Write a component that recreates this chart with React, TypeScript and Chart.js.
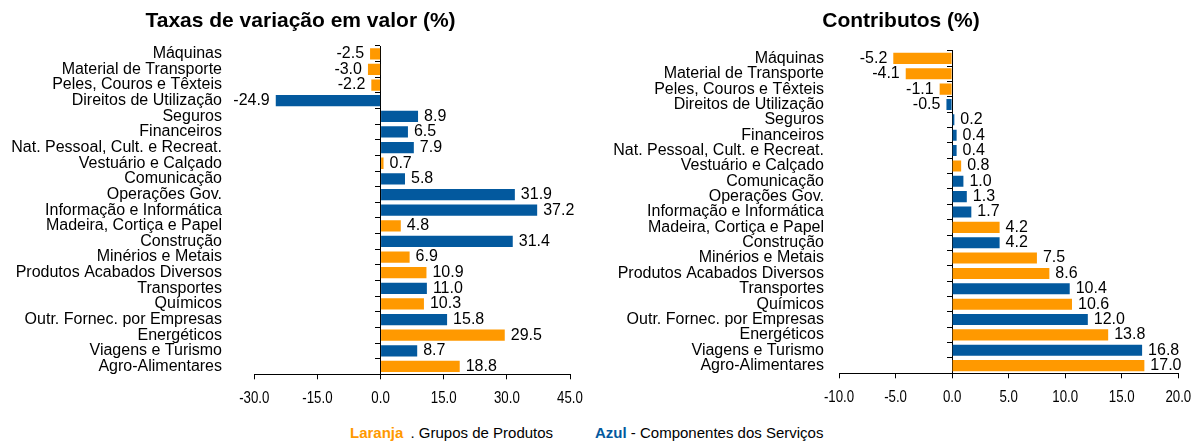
import React, { useEffect, useRef } from "react";
import { Chart, registerables } from "chart.js";

Chart.register(...registerables);

const CATEGORIES = [
  "Máquinas",
  "Material de Transporte",
  "Peles, Couros e Têxteis",
  "Direitos de Utilização",
  "Seguros",
  "Financeiros",
  "Nat. Pessoal, Cult. e Recreat.",
  "Vestuário e Calçado",
  "Comunicação",
  "Operações Gov.",
  "Informação e Informática",
  "Madeira, Cortiça e Papel",
  "Construção",
  "Minérios e Metais",
  "Produtos Acabados Diversos",
  "Transportes",
  "Químicos",
  "Outr. Fornec. por Empresas",
  "Energéticos",
  "Viagens e Turismo",
  "Agro-Alimentares",
];

// P = Grupos de Produtos (laranja), S = Componentes dos Serviços (azul)
const GROUPS = ["P", "P", "P", "S", "S", "S", "S", "P", "S", "S", "S", "P", "S", "P", "P", "S", "P", "S", "P", "S", "P"];

const VARIATION = [-2.5, -3.0, -2.2, -24.9, 8.9, 6.5, 7.9, 0.7, 5.8, 31.9, 37.2, 4.8, 31.4, 6.9, 10.9, 11.0, 10.3, 15.8, 29.5, 8.7, 18.8];
const CONTRIB = [-5.2, -4.1, -1.1, -0.5, 0.2, 0.4, 0.4, 0.8, 1.0, 1.3, 1.7, 4.2, 4.2, 7.5, 8.6, 10.4, 10.6, 12.0, 13.8, 16.8, 17.0];

const LEFT_TICKS = [-30, -15, 0, 15, 30, 45];
const RIGHT_TICKS = [-10, -5, 0, 5, 10, 15, 20];

const TITLE_LEFT = "Taxas de variação em valor (%)";
const TITLE_RIGHT = "Contributos (%)";

const ORANGE = "#FF9900";
const BLUE = "#03599E";
const FONT = "'Liberation Sans', Arial, Helvetica, sans-serif";

// value labels next to each bar
const valueLabels = {
  id: "valueLabels",
  afterDatasetsDraw(chart: any) {
    const ctx = chart.ctx;
    const meta = chart.getDatasetMeta(0);
    const data = chart.data.datasets[0].data as number[];
    ctx.save();
    ctx.font = `16px ${FONT}`;
    ctx.fillStyle = "#000";
    ctx.textBaseline = "middle";
    meta.data.forEach((bar: any, i: number) => {
      const v = data[i];
      const { x, y } = bar.getProps(["x", "y"], true);
      if (v >= 0) {
        ctx.textAlign = "left";
        ctx.fillText(v.toFixed(1), x + 6, y);
      } else {
        ctx.textAlign = "right";
        ctx.fillText(v.toFixed(1), x - 6, y);
      }
    });
    ctx.restore();
  },
};

// condensed x tick labels, placed from the x scale's own ticks
const condensedTicks = {
  id: "condensedTicks",
  afterDraw(chart: any) {
    const sc = chart.scales.x;
    const ctx = chart.ctx;
    ctx.save();
    ctx.font = `17px ${FONT}`;
    ctx.fillStyle = "#000";
    ctx.textAlign = "center";
    ctx.textBaseline = "middle";
    const y = sc.top + 23.7;
    sc.ticks.forEach((t: any) => {
      const x = sc.getPixelForValue(t.value);
      ctx.save();
      ctx.translate(x, y);
      ctx.scale(0.78, 1);
      ctx.fillText(Number(t.value).toFixed(1), 0, 0);
      ctx.restore();
    });
    ctx.restore();
  },
};

// keep long category labels from being clipped at the scale's left edge
const unclipLabels = {
  id: "unclipLabels",
  afterLayout(chart: any) {
    const y = chart.scales.y;
    if (y) y.left = 0;
  },
};

interface Spec {
  title: string;
  values: number[];
  ticks: number[];
  height: number;
  padLeft: number;
  padRight: number;
  yWidth: number;
  labelPad: number;
  titleBottom: number;
  areaBottom: number;
}

function makeConfig(s: Spec): any {
  const step = s.ticks[1] - s.ticks[0];
  return {
    type: "bar",
    data: {
      labels: CATEGORIES,
      datasets: [
        {
          data: s.values,
          backgroundColor: GROUPS.map((g) => (g === "P" ? ORANGE : BLUE)),
          borderWidth: 0,
          categoryPercentage: 0.8,
          barPercentage: 0.9,
        },
      ],
    },
    options: {
      indexAxis: "y",
      responsive: false,
      animation: false,
      layout: { padding: { left: s.padLeft, right: s.padRight, top: 0, bottom: 0 } },
      plugins: {
        legend: { display: false },
        tooltip: { enabled: false },
        title: {
          display: true,
          text: s.title,
          color: "#000",
          font: { family: FONT, size: 21, weight: "bold", lineHeight: 1.2 },
          padding: { top: 8.2, bottom: s.titleBottom },
        },
      },
      scales: {
        x: {
          type: "linear",
          min: s.ticks[0],
          max: s.ticks[s.ticks.length - 1],
          ticks: {
            stepSize: step,
            display: false,
          },
          grid: {
            display: true,
            drawOnChartArea: false,
            drawTicks: true,
            tickLength: 5,
            color: "#000",
          },
          border: { display: true, color: "#000", width: 1 },
          afterFit: (scale: any) => {
            scale.height = s.height - s.areaBottom;
          },
        },
        y: {
          type: "category",
          position: "left",
          grid: { display: false, drawTicks: false },
          border: { display: false },
          ticks: {
            color: "#000",
            padding: s.labelPad,
            autoSkip: false,
            font: { family: FONT, size: 16 },
          },
          afterFit: (scale: any) => {
            scale.width = s.yWidth;
          },
        },
        y2: {
          type: "category",
          axis: "y",
          labels: CATEGORIES,
          position: { x: 0 },
          offset: true,
          ticks: { display: false },
          grid: {
            display: true,
            offset: true,
            drawOnChartArea: false,
            drawTicks: true,
            tickLength: 5,
            color: "#000",
          },
          border: { display: true, color: "#000", width: 1 },
        },
      },
    },
    plugins: [unclipLabels, valueLabels, condensedTicks],
  };
}

function BarChart(props: { spec: Spec; left: number; width: number }) {
  const ref = useRef<HTMLCanvasElement | null>(null);
  useEffect(() => {
    if (!ref.current) return;
    const chart = new Chart(ref.current, makeConfig(props.spec));
    return () => chart.destroy();
  }, []);
  return (
    <canvas
      ref={ref}
      width={props.width}
      height={props.spec.height}
      style={{
        position: "absolute",
        left: props.left,
        top: 0,
        width: props.width,
        height: props.spec.height,
        display: "block",
      }}
    />
  );
}

const LEFT_SPEC: Spec = {
  title: TITLE_LEFT,
  values: VARIATION,
  ticks: LEFT_TICKS,
  height: 420,
  padLeft: 31,
  padRight: 30,
  yWidth: 223.3,
  labelPad: 32.3,
  titleBottom: 12.6,
  areaBottom: 374.3,
};

const RIGHT_SPEC: Spec = {
  title: TITLE_RIGHT,
  values: CONTRIB,
  ticks: RIGHT_TICKS,
  height: 420,
  padLeft: 23.7,
  padRight: 33.7,
  yWidth: 215.3,
  labelPad: 15,
  titleBottom: 17.3,
  areaBottom: 373.3,
};

export default function App() {
  return (
    <div
      style={{
        position: "absolute",
        left: 0,
        top: 0,
        width: 1199,
        height: 443,
        overflow: "hidden",
        background: "#fff",
        fontFamily: FONT,
      }}
    >
      <BarChart spec={LEFT_SPEC} left={0} width={600} />
      <BarChart spec={RIGHT_SPEC} left={600} width={612} />
      <div
        style={{
          position: "absolute",
          left: 350,
          top: 424,
          fontSize: 15,
          lineHeight: "18px",
          whiteSpace: "nowrap",
          color: "#000",
        }}
      >
        <span style={{ color: ORANGE, fontWeight: "bold" }}>Laranja</span>
        <span style={{ marginLeft: 3 }}> . Grupos de Produtos</span>
      </div>
      <div
        style={{
          position: "absolute",
          left: 595,
          top: 424,
          fontSize: 15,
          lineHeight: "18px",
          whiteSpace: "nowrap",
          color: "#000",
        }}
      >
        <span style={{ color: BLUE, fontWeight: "bold" }}>Azul</span> - Componentes dos Serviços
      </div>
    </div>
  );
}
